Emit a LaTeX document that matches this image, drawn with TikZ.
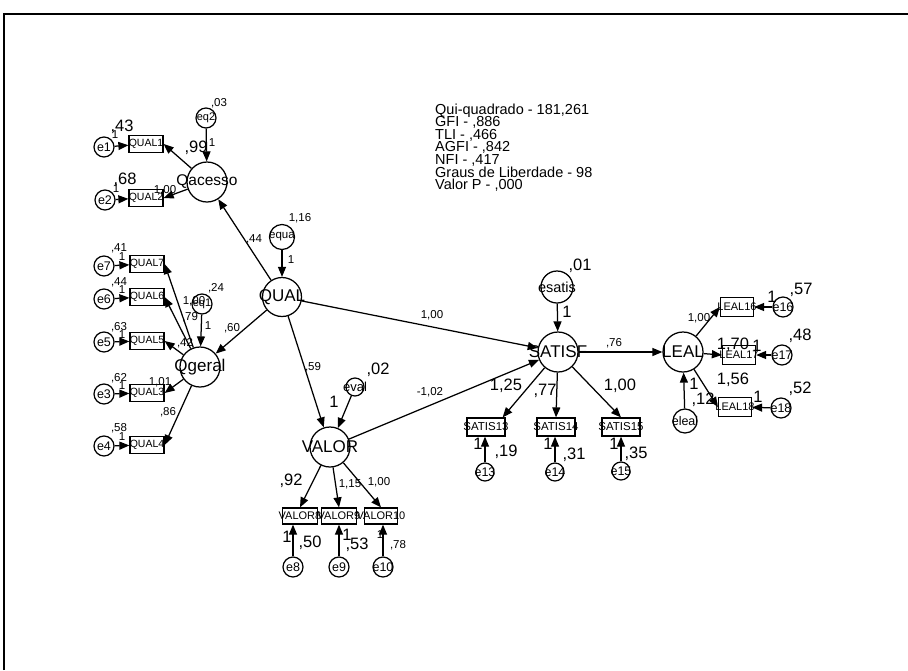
\documentclass[tikz,border=0pt]{standalone}
\usepackage{fontspec}
\setmainfont{Liberation Sans}
\usetikzlibrary{arrows.meta}
\newcommand\ovr[1]{\makebox[0pt][c]{#1}}
\begin{document}
\begin{tikzpicture}[x=1pt,y=-1pt,
  every node/.style={inner sep=0pt},
  lat/.style={circle,draw,line width=1.25pt,minimum size=40pt,font=\fontsize{17}{17}\selectfont},
  err/.style={circle,draw,line width=1.25pt,minimum size=20pt,font=\fontsize{12.5}{12.5}\selectfont},
  obs/.style={rectangle,draw,line width=1.25pt,minimum width=34pt,minimum height=17pt,font=\fontsize{10.5}{10.5}\selectfont},
  sm/.style={font=\fontsize{11.5}{11.5}\selectfont},
  bg/.style={font=\fontsize{16.5}{16.5}\selectfont},
  fit/.style={anchor=base west,font=\fontsize{14.5}{14.5}\selectfont},
  arr/.style={line width=1.25pt,-{Triangle[length=10pt,width=8pt]}},
]
\useasboundingbox (0,0) rectangle (908,670);
\draw[line width=2pt] (4,670) -- (4,14) -- (908,14);

% fit indices
\node[fit] (f1) at (435,114.0) {Qui-quadrado - 181,261};
\node[fit] (f2) at (435,126.6) {GFI - ,886};
\node[fit] (f3) at (435,139.2) {TLI - ,466};
\node[fit] (f4) at (435,151.8) {AGFI - ,842};
\node[fit] (f5) at (435,164.4) {NFI - ,417};
\node[fit] (f6) at (435,177.0) {Graus de Liberdade - 98};
\node[fit] (f7) at (435,189.6) {Valor P - ,000};

% latent variables
\node[lat,font=\fontsize{15.5}{15.5}\selectfont] (qac) at (207,182) {\ovr{Qacesso}};
\node[lat] (qger) at (200,367) {\ovr{Qgeral}};
\node[lat,minimum size=39pt] (qual) at (282,297) {\ovr{QUAL}};
\node[lat] (valor) at (330,447) {\ovr{VALOR}};
\node[lat] (satisf) at (558,352) {\ovr{SATISF}};
\node[lat] (leal) at (683,352) {\ovr{LEAL}};

% disturbances
\node[err,font=\fontsize{11}{11}\selectfont] (eq2) at (206,118) {\ovr{eq2}};
\node[err,font=\fontsize{11}{11}\selectfont] (eq1) at (202,304) {\ovr{eq1}};
\node[err,minimum size=25pt,font=\fontsize{11.5}{11.5}\selectfont] (equa) at (282,237) {\ovr{equa}};
\node[err,minimum size=18pt,font=\fontsize{13}{13}\selectfont] (eval) at (355,387) {\ovr{\raisebox{-2pt}{eval}}};
\node[err,minimum size=32pt,font=\fontsize{14.5}{14.5}\selectfont] (esatis) at (557,287) {\ovr{\raisebox{-5pt}{esatis}}};
\node[err,minimum size=24pt,font=\fontsize{12.5}{12.5}\selectfont] (eleal) at (685,421) {\ovr{\raisebox{-3pt}{eleal}}};

% left column
\node[err] (e1) at (104,147) {\ovr{e1}};
\node[obs] (q1) at (146,144) {\ovr{QUAL1}};
\node[err] (e2) at (105,200) {\ovr{e2}};
\node[obs] (q2) at (146,198) {\ovr{QUAL2}};
\node[err] (e7) at (104,266) {\ovr{e7}};
\node[obs] (q7) at (147,264) {\ovr{QUAL7}};
\node[err] (e6) at (104,299) {\ovr{e6}};
\node[obs] (q6) at (147,297) {\ovr{QUAL6}};
\node[err] (e5) at (104,342) {\ovr{e5}};
\node[obs] (q5) at (147,341) {\ovr{QUAL5}};
\node[err] (e3) at (104,394) {\ovr{e3}};
\node[obs] (q3) at (147,393) {\ovr{QUAL3}};
\node[err] (e4) at (104,446) {\ovr{e4}};
\node[obs] (q4) at (147,445) {\ovr{QUAL4}};

% valor indicators
\node[obs,minimum width=35pt,minimum height=16pt,font=\fontsize{11}{11}\selectfont] (v8) at (300,516) {\ovr{VALOR8}};
\node[obs,minimum width=35pt,minimum height=16pt,font=\fontsize{11}{11}\selectfont] (v9) at (339,516) {\ovr{VALOR9}};
\node[obs,minimum width=33pt,minimum height=16pt,font=\fontsize{11}{11}\selectfont] (v10) at (381,516) {\ovr{VALOR10}};
\node[err] (e8) at (293,567) {\ovr{e8}};
\node[err] (e9) at (339,567) {\ovr{e9}};
\node[err] (e10) at (383,567) {\ovr{e10}};

% satisf indicators
\node[obs,minimum width=38pt,minimum height=18pt,font=\fontsize{11.5}{11.5}\selectfont] (s13) at (486,427) {\ovr{SATIS13}};
\node[obs,minimum width=38pt,minimum height=18pt,font=\fontsize{11.5}{11.5}\selectfont] (s14) at (556,427) {\ovr{SATIS14}};
\node[obs,minimum width=38pt,minimum height=18pt,font=\fontsize{11.5}{11.5}\selectfont] (s15) at (621,427) {\ovr{SATIS15}};
\node[err,minimum size=18pt] (e13) at (485,472) {\ovr{e13}};
\node[err,minimum size=18pt] (e14) at (555,472) {\ovr{e14}};
\node[err,minimum size=18pt] (e15) at (621,471) {\ovr{e15}};

% leal indicators
\node[obs,minimum width=33pt,minimum height=19pt,font=\fontsize{11}{11}\selectfont] (l16) at (737,307) {\ovr{LEAL16}};
\node[obs,minimum width=33pt,minimum height=19pt,font=\fontsize{11}{11}\selectfont] (l17) at (739,355) {\ovr{LEAL17}};
\node[obs,minimum width=33pt,minimum height=19pt,font=\fontsize{11}{11}\selectfont] (l18) at (735,407) {\ovr{LEAL18}};
\node[err] (e16) at (783,307) {\ovr{e16}};
\node[err] (e17) at (782,355) {\ovr{e17}};
\node[err] (e18) at (781,408) {\ovr{e18}};

% connectors
\draw[arr] (e1) -- (q1);
\draw[arr] (e2) -- (q2);
\draw[arr] (e7) -- (q7);
\draw[arr] (e6) -- (q6);
\draw[arr] (e5) -- (q5);
\draw[arr] (e3) -- (q3);
\draw[arr] (e4) -- (q4);
\draw[arr] (eq2) -- (qac);
\draw[arr] (qac) -- (q1.east);
\draw[arr] (qac) -- (q2.east);
\draw[arr] (eq1) -- (qger);
\draw[arr] (qger) -- (q7.east);
\draw[arr] (qger) -- (q6.east);
\draw[arr] (qger) -- (q5.east);
\draw[arr] (qger) -- (q3.east);
\draw[arr] (qger) -- (q4.east);
\draw[arr] (equa) -- (qual);
\draw[arr] (qual) -- (qac);
\draw[arr] (qual) -- (qger);
\draw[arr] (qual) -- (satisf);
\draw[arr] (qual) -- (valor);
\draw[arr] (eval) -- (valor);
\draw[arr] (valor) -- (satisf);
\draw[arr] (valor) -- (v8.north);
\draw[arr] (valor) -- (v9.north);
\draw[arr] (valor) -- (v10.north);
\draw[arr] (e8) -- (e8 |- v8.south);
\draw[arr] (e9) -- (e9 |- v9.south);
\draw[arr] (e10) -- (e10 |- v10.south);
\draw[arr] (esatis) -- (satisf);
\draw[arr] (satisf) -- (leal);
\draw[arr] (satisf) -- ([xshift=-3pt]s13.north east);
\draw[arr] (satisf) -- (s14.north);
\draw[arr] (satisf) -- (s15.north);
\draw[arr] (e13) -- (e13 |- s13.south);
\draw[arr] (e14) -- (e14 |- s14.south);
\draw[arr] (e15) -- (e15 |- s15.south);
\draw[arr] (eleal) -- (leal);
\draw[arr] (leal) -- (l16.west);
\draw[arr] (leal) -- (l17.west);
\draw[arr] (leal) -- (l18.west);
\draw[arr] (e16) -- (l16);
\draw[arr] (e17) -- (l17);
\draw[arr] (e18) -- (l18);

% estimates
\node[bg] (t1) at (122,127) {,43};
\node[sm] (t2) at (115,135) {1};
\node[bg] (t3) at (125,180) {,68};
\node[sm] (t4) at (116,189) {1};
\node[sm] (t5) at (165,190) {1,00};
\node[bg] (t6) at (196,148) {,99};
\node[sm] (t7) at (212,143) {1};
\node[sm] (t8) at (219,103) {,03};
\node[sm] (t9) at (119,248) {,41};
\node[sm] (t10) at (122,257) {1};
\node[sm] (t11) at (119,282) {,44};
\node[sm] (t12) at (122,290) {1};
\node[sm] (t13) at (119,327) {,63};
\node[sm] (t14) at (122,335) {1};
\node[sm] (t15) at (119,378) {,62};
\node[sm] (t16) at (122,386) {1};
\node[sm] (t17) at (119,428) {,58};
\node[sm] (t18) at (122,437) {1};
\node[sm] (t19) at (194,301) {1,00};
\node[sm] (t20) at (216,288) {,24};
\node[sm] (t21) at (208,326) {1};
\node[sm] (t22) at (190,317) {,79};
\node[sm] (t23) at (185,343) {,42};
\node[sm] (t24) at (160,382) {1,01};
\node[sm] (t25) at (168,412) {,86};
\node[sm] (t26) at (232,328) {,60};
\node[sm] (t27) at (254,239) {,44};
\node[sm] (t28) at (300,218) {1,16};
\node[sm] (t29) at (291,260) {1};
\node[sm] (t30) at (432,315) {1,00};
\node[sm] (t31) at (313,367) {,59};
\node[bg] (t32) at (378,370) {,02};
\node[bg] (t33) at (334,402) {1};
\node[sm] (t34) at (430,392) {-1,02};
\node[bg] (t35) at (291,481) {,92};
\node[sm] (t36) at (350,484) {1,15};
\node[sm] (t37) at (379,482) {1,00};
\node[bg] (t38) at (287,537) {1};
\node[bg] (t39) at (310,543) {,50};
\node[bg] (t40) at (347,535) {1};
\node[bg] (t41) at (357,545) {,53};
\node[sm] (t42) at (380,535) {1};
\node[sm] (t43) at (398,545) {,78};
\node[bg] (t44) at (580,266) {,01};
\node[bg] (t45) at (567,312) {1};
\node[sm] (t46) at (614,343) {,76};
\node[bg] (t47) at (506,386) {1,25};
\node[bg] (t48) at (545,391) {,77};
\node[bg] (t49) at (620,386) {1,00};
\node[bg] (t50) at (478,444) {1};
\node[bg] (t51) at (506,452) {,19};
\node[bg] (t52) at (548,444) {1};
\node[bg] (t53) at (574,455) {,31};
\node[bg] (t54) at (614,444) {1};
\node[bg] (t55) at (636,454) {,35};
\node[bg] (t56) at (694,384) {1};
\node[bg] (t57) at (703,400) {,12};
\node[bg] (t58) at (772,297) {1};
\node[bg] (t59) at (801,290) {,57};
\node[sm] (t60) at (699,318) {1,00};
\node[bg] (t61) at (733,345) {1,70};
\node[bg] (t62) at (757,346) {1};
\node[bg] (t63) at (800,336) {,48};
\node[bg] (t64) at (733,380) {1,56};
\node[bg] (t65) at (758,397) {1};
\node[bg] (t66) at (800,389) {,52};
\end{tikzpicture}
\end{document}
